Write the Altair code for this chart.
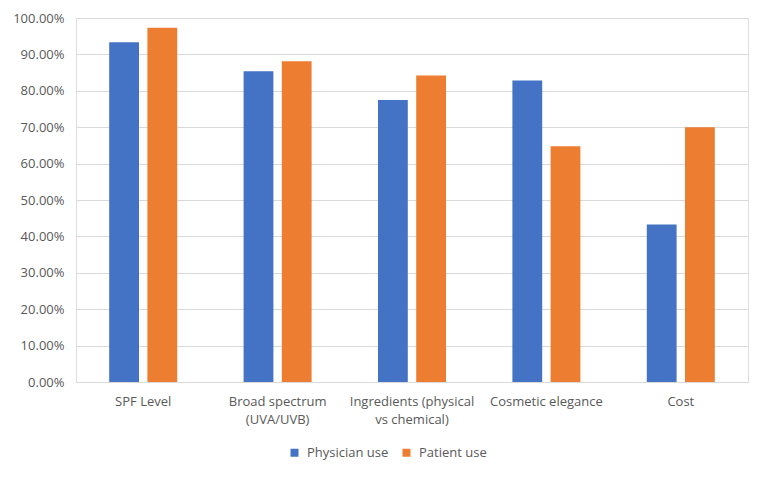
import altair as alt
import pandas as pd

categories = ["SPF Level", "Broad spectrum\n(UVA/UVB)", "Ingredients (physical\nvs chemical)",
              "Cosmetic elegance", "Cost"]
series = ["Physician use", "Patient use"]
physician = [0.9333, 0.854, 0.775, 0.828, 0.433]
patient = [0.973, 0.881, 0.842, 0.648, 0.700]
colors = ["#4472C4", "#ED7D31"]
y_ticks = [i / 10 for i in range(11)]

rows = []
for c, a, b in zip(categories, physician, patient):
    rows.append({"category": c, "series": series[0], "value": a})
    rows.append({"category": c, "series": series[1], "value": b})
df = pd.DataFrame(rows)

FONT = "Open Sans"
GRAY = "#595959"

bars = alt.Chart(df).mark_bar().encode(
    x=alt.X("category:N", sort=categories, title=None,
            scale=alt.Scale(paddingInner=0.494, paddingOuter=0.247),
            axis=alt.Axis(labelAngle=0, ticks=False, domainColor="#D9D9D9",
                          labelExpr="split(datum.label, '\\n')",
                          labelLineHeight=18, labelPadding=13,
                          labelFont=FONT, labelFontSize=13, labelColor=GRAY)),
    xOffset=alt.XOffset("series:N", sort=series,
                        scale=alt.Scale(paddingInner=0.22, paddingOuter=0)),
    y=alt.Y("value:Q", title=None,
            scale=alt.Scale(domain=[0, 1], nice=False),
            axis=alt.Axis(values=y_ticks, format=".2%", ticks=False, domain=False,
                          gridColor="#D9D9D9", labelPadding=12,
                          labelFont=FONT, labelFontSize=13, labelColor=GRAY)),
    color=alt.Color("series:N", sort=series,
                    scale=alt.Scale(domain=series, range=colors),
                    legend=alt.Legend(title=None, orient="none", direction="horizontal",
                                      legendX=212, legendY=428,
                                      symbolType="square", symbolSize=64,
                                      symbolStrokeWidth=0,
                                      labelFont=FONT, labelFontSize=13, labelColor=GRAY,
                                      labelOffset=6, columnPadding=11)),
)

chart = bars.properties(
    width=672, height=364,
    autosize=alt.AutoSizeParams(type="none"),
    padding={"left": 68, "top": 10, "right": 11, "bottom": 95},
).configure_view(stroke=None).configure(background="white")

chart.save("out.html", embed_options={"renderer": "svg", "actions": False})
